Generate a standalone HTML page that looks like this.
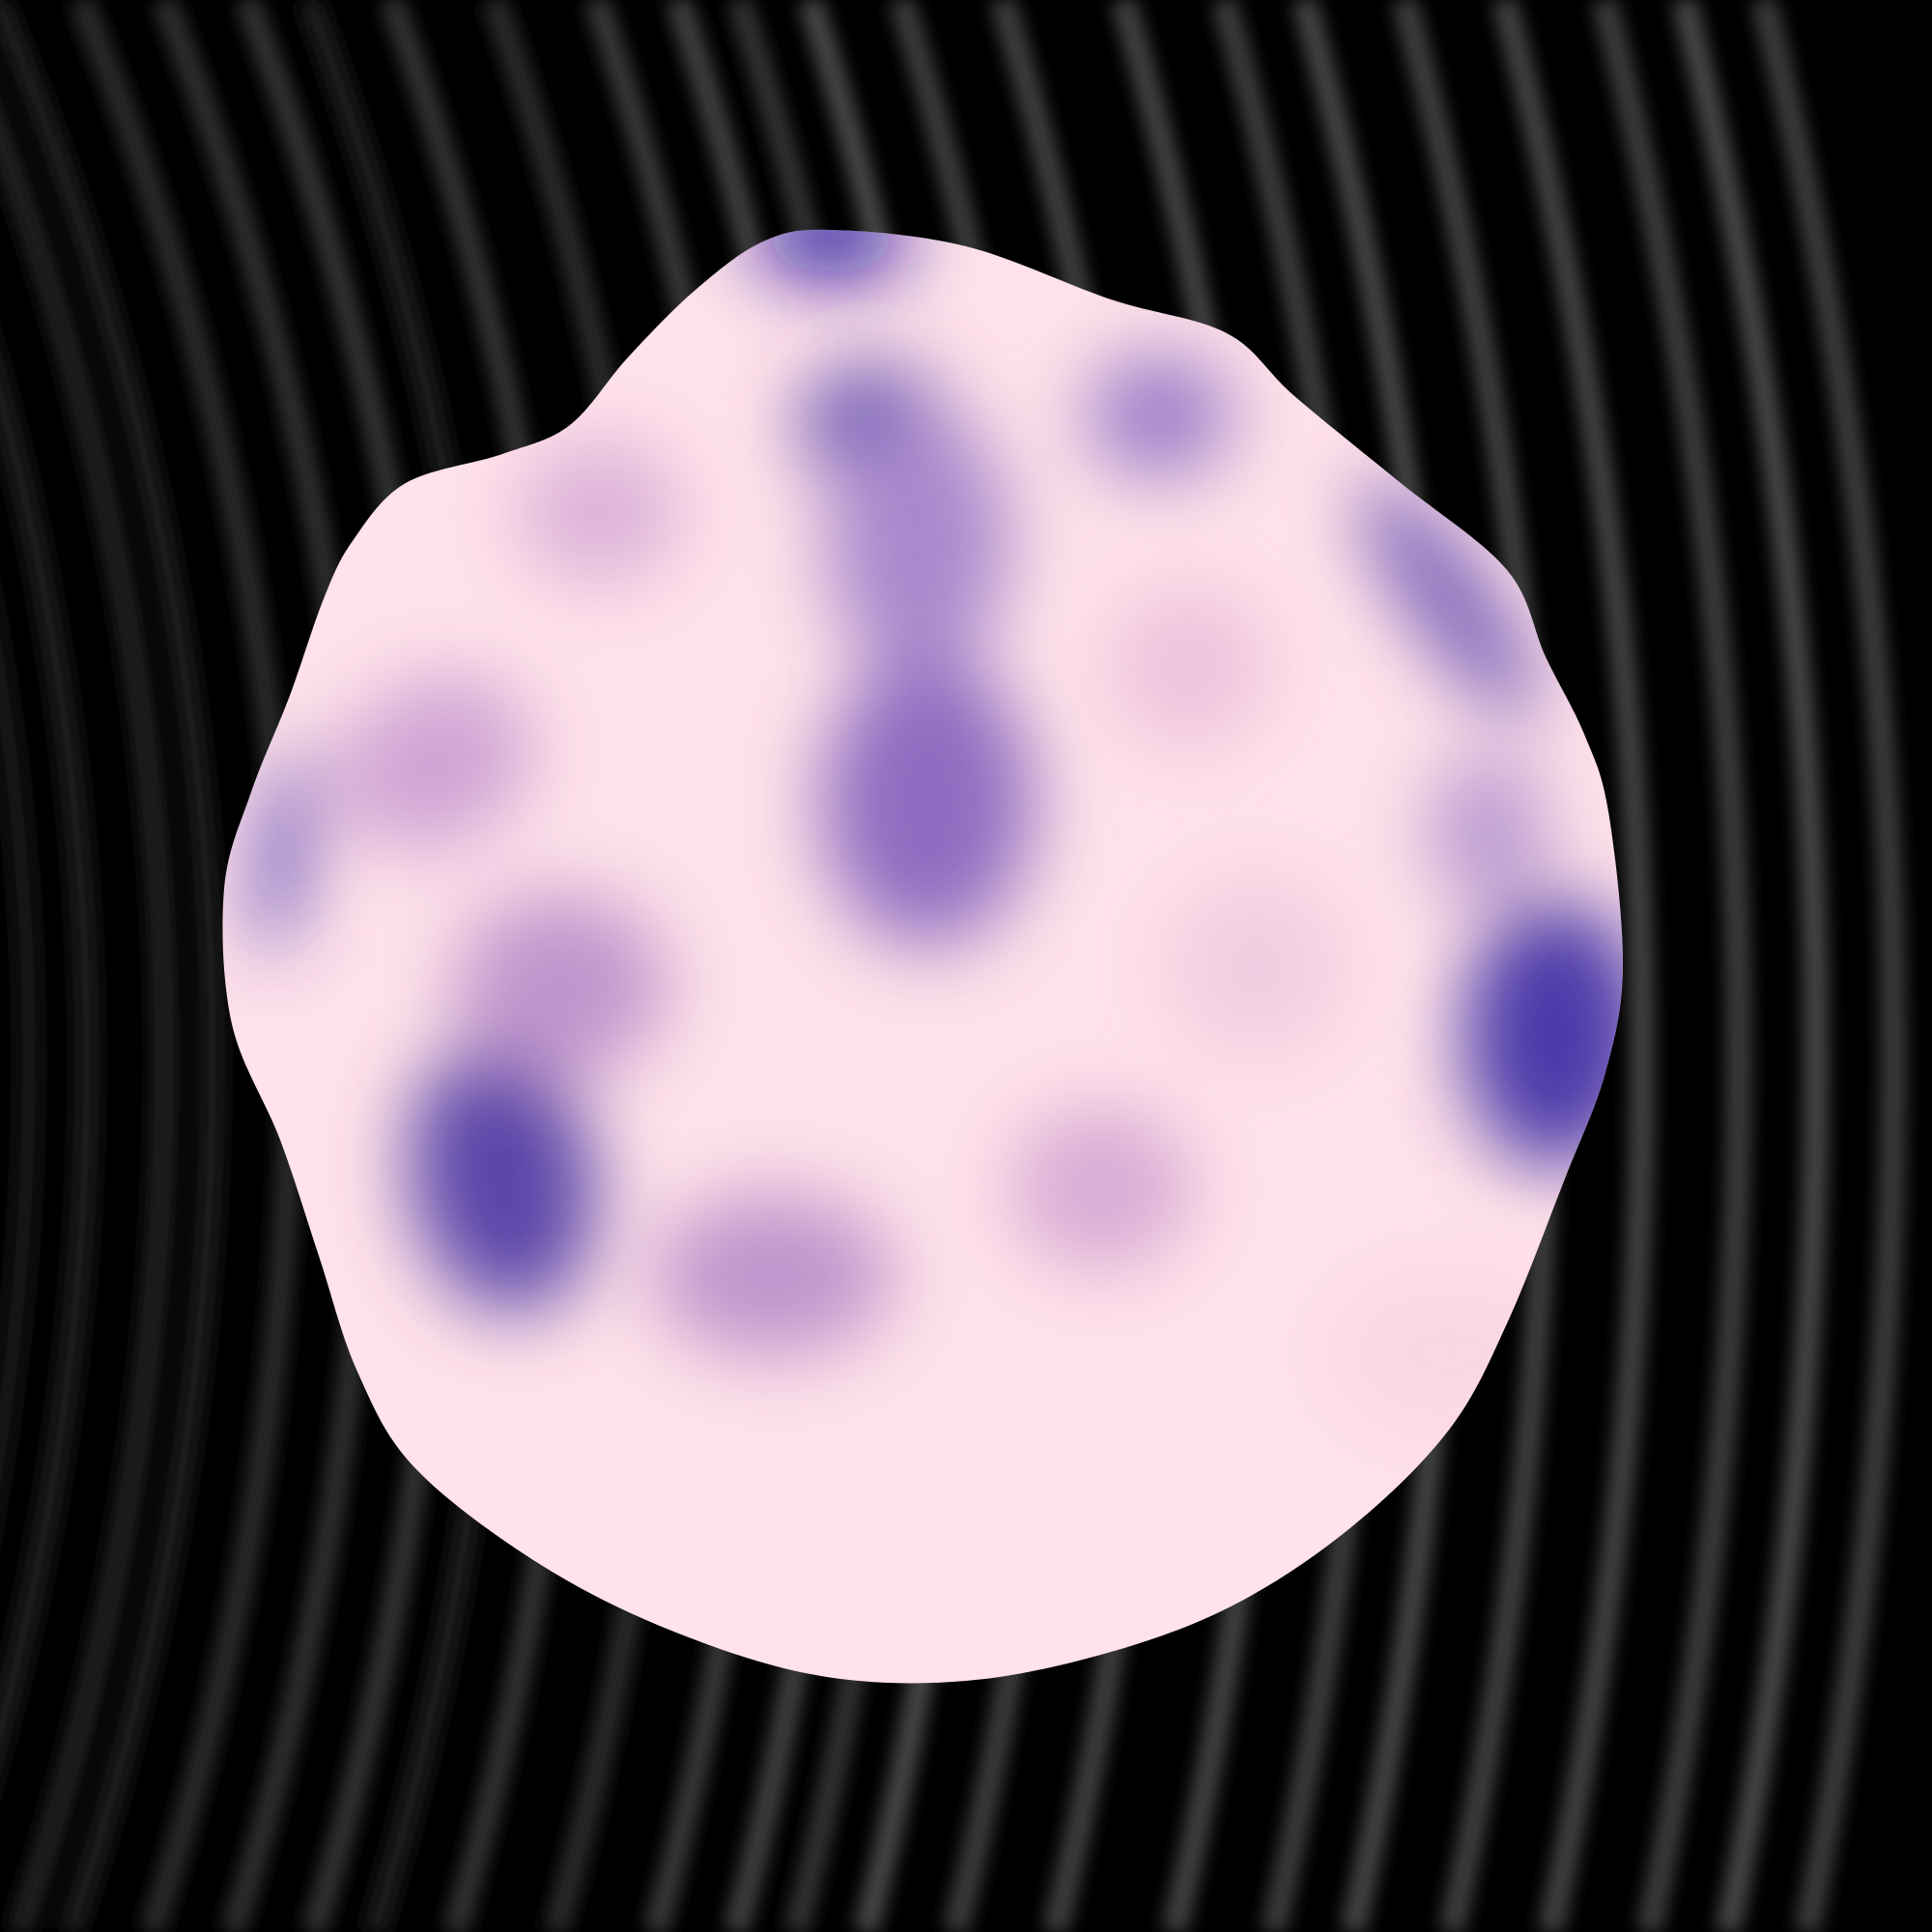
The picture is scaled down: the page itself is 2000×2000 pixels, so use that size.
<!DOCTYPE html>
<html><head><meta charset="utf-8"><style>
html,body{margin:0;padding:0;background:#000;overflow:hidden;width:2000px;height:2000px;}
#wrap{position:relative;width:2000px;height:2000px;overflow:hidden;}
svg{display:block;position:absolute;left:0;top:0}
</style></head><body>
<div id="wrap">
<svg id="s" width="2000" height="2000" viewBox="0 0 2000 2000" xmlns="http://www.w3.org/2000/svg" overflow="hidden">
<defs>
<filter id="blurS" x="0" y="0" width="2000" height="2000" filterUnits="userSpaceOnUse"><feGaussianBlur stdDeviation="9"/></filter>
<filter id="blurB" x="0" y="0" width="2000" height="2000" filterUnits="userSpaceOnUse"><feGaussianBlur stdDeviation="40"/></filter>
<clipPath id="clip"><path id="clipPath"/></clipPath>
</defs>
<rect width="2000" height="2000" fill="#000"/>
<g id="stripes" filter="url(#blurS)"></g>
<path id="blob" fill="#ffe2ea"/>
<g id="spots" clip-path="url(#clip)"><g id="spotsInner" filter="url(#blurB)"></g></g>
</svg>
</div>
<script>
const stripeX = [30,90,170,220,300,380,460,520,600,700,800,880,940,1010,1100,1200,1320,1420,1500,1600,1700,1800,1880,1960];
const stripeLevel = [0.08,0.1,0.14,0.1,0.16,0.18,0.2,0.12,0.2,0.16,0.22,0.25,0.2,0.28,0.24,0.25,0.26,0.24,0.27,0.25,0.26,0.24,0.28,0.24];
const blobX = [860,1000,1150,1270,1340,1450,1560,1600,1640,1665,1680,1662,1620,1560,1500,1400,1280,1150,1000,850,700,560,430,370,330,290,240,232,260,300,335,365,420,520,590,650,720,790];
const blobY = [238,255,310,345,410,500,590,680,760,840,1000,1110,1220,1370,1480,1580,1660,1710,1740,1735,1690,1620,1520,1420,1300,1180,1060,920,820,720,620,560,500,470,440,370,300,250];
const spotX = [860,905,1200,950,960,1500,1610,520,800,1140,295,620,450,580,1230,1300,1500,1540];
const spotY = [245,440,430,560,830,620,1070,1220,1320,1230,880,530,790,1020,690,1000,1400,860];
const spotRX = [80,75,75,95,110,40,95,95,125,95,22,85,105,110,85,95,130,60];
const spotRY = [40,60,65,140,150,150,140,140,85,85,110,75,85,95,85,95,90,80];
const spotRot = [0,0,0,0,0,-35,0,-10,0,0,10,0,-30,0,0,0,0,0];
const spotC = ["#1a0a9c","#5040aa","#9a7cc8","#a888cc","#8e6cc0","#7058b4","#4a38a8","#5a44a8","#c094cc","#d8aad4","#4a38b0","#dcb0d8","#cfa2d4","#bf94cc","#eec2dc","#f2cce0","#fad6e4","#b898d0"];

const NS="http://www.w3.org/2000/svg";
const cx=-2600, cy=1100;
const g=document.getElementById('stripes');
stripeX.forEach((x,i)=>{
  const r=x-cx;
  const xt=cx+Math.sqrt(r*r-(0-cy)*(0-cy));
  const xb=cx+Math.sqrt(r*r-(2000-cy)*(2000-cy));
  const p=document.createElementNS(NS,'path');
  
  
  p.setAttribute('d',`M${xt},0 A${r},${r} 0 0 1 ${xb},2000`);
  p.setAttribute('fill','none');
  const v=Math.round(255*stripeLevel[i]);
  p.setAttribute('stroke',`rgb(${v},${v},${v})`);
  p.setAttribute('stroke-width',26);
  g.appendChild(p);
});
let n=blobX.length, d='';
for(let i=0;i<n;i++){
  const p0=[blobX[(i-1+n)%n],blobY[(i-1+n)%n]],p1=[blobX[i],blobY[i]],p2=[blobX[(i+1)%n],blobY[(i+1)%n]],p3=[blobX[(i+2)%n],blobY[(i+2)%n]];
  if(i===0)d+=`M${p1[0]},${p1[1]}`;
  const c1=[p1[0]+(p2[0]-p0[0])/6,p1[1]+(p2[1]-p0[1])/6],c2=[p2[0]-(p3[0]-p1[0])/6,p2[1]-(p3[1]-p1[1])/6];
  d+=`C${c1[0]},${c1[1]} ${c2[0]},${c2[1]} ${p2[0]},${p2[1]}`;
}
d+='Z';
document.getElementById('blob').setAttribute('d',d);
document.getElementById('clipPath').setAttribute('d',d);
const sp=document.getElementById('spotsInner');
spotX.forEach((x,i)=>{
  const e=document.createElementNS(NS,'ellipse');
  
  
  e.setAttribute('cx',x);e.setAttribute('cy',spotY[i]);
  e.setAttribute('rx',spotRX[i]);e.setAttribute('ry',spotRY[i]);
  e.setAttribute('transform',`rotate(${spotRot[i]} ${x} ${spotY[i]})`);
  e.setAttribute('fill',spotC[i]);
  sp.appendChild(e);
});
</script>
</body></html>
